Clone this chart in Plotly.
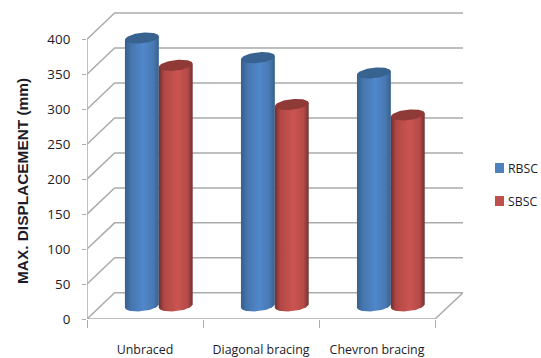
import numpy as np
import plotly.graph_objects as go

categories = ["Unbraced", "Diagonal bracing", "Chevron bracing"]
series_names = ["RBSC", "SBSC"]
rbsc_values = [383, 355, 333]
sbsc_values = [344, 288, 273]
y_ticks = [0, 50, 100, 150, 200, 250, 300, 350, 400]
y_title = "MAX. DISPLACEMENT (mm)"

# Oblique projection of the chart box, in axis units
DEPTH_X = 0.238
DEPTH_Y = 37.5
Y_MAX = 439
X_MIN, X_MAX = -0.5, 2.741
HALF_WIDTH = 0.146
CAP_RY = 7.6
CAP_TILT = 2.4
GRID = "#ababab"

BODY = {
    "RBSC": [[0, "#35608f"], [0.18, "#4675ac"], [0.55, "#5088cc"], [0.85, "#4878b0"], [1, "#365f8e"]],
    "SBSC": [[0, "#6f2f2d"], [0.16, "#b04845"], [0.55, "#cb5451"], [0.85, "#b44a47"], [1, "#733230"]],
}
CAP = {"RBSC": "#38628f", "SBSC": "#8f3a37"}
SWATCH = {"RBSC": "#4f81bd", "SBSC": "#c0504d"}

fig = go.Figure()


def grey_line(xs, ys, width=1.5):
    fig.add_trace(go.Scatter(x=xs, y=ys, mode="lines", hoverinfo="skip", showlegend=False,
                             cliponaxis=False, line=dict(color=GRID, width=width)))


# Back wall gridlines and the diagonals running along the side wall
for v in y_ticks:
    grey_line([X_MIN, X_MIN + DEPTH_X, X_MAX], [v, v + DEPTH_Y, v + DEPTH_Y])

# Left edge, front of the floor and its right-hand edge
grey_line([X_MIN, X_MIN], [0, 400])
grey_line([X_MIN, 2.5, X_MAX], [0, 0, DEPTH_Y])


def cylinder(center, value, name):
    base = DEPTH_Y / 2
    top = value + base
    t_low = np.linspace(np.pi, 2 * np.pi, 40)
    t_top = np.linspace(0, 2 * np.pi, 80)
    bottom_x = center + HALF_WIDTH * np.cos(t_low)
    bottom_y = base + CAP_RY * np.sin(t_low) + CAP_TILT * np.cos(t_low)
    xs = np.r_[bottom_x, bottom_x[-1], center - HALF_WIDTH, bottom_x[0]]
    ys = np.r_[bottom_y, top + CAP_TILT, top - CAP_TILT, bottom_y[0]]
    fig.add_trace(go.Scatter(
        x=xs, y=ys, mode="lines", fill="toself", line=dict(width=0), showlegend=False,
        name=name, hoverinfo="skip",
        fillgradient=dict(type="horizontal", colorscale=BODY[name]),
    ))
    fig.add_trace(go.Scatter(
        x=center + HALF_WIDTH * np.cos(t_top),
        y=top + CAP_RY * np.sin(t_top) + CAP_TILT * np.cos(t_top),
        mode="lines", fill="toself", fillcolor=CAP[name], line=dict(width=0),
        showlegend=False, name=name, hoverinfo="skip",
    ))


for i in range(len(categories)):
    group_center = i + DEPTH_X / 2
    cylinder(group_center - HALF_WIDTH, rbsc_values[i], series_names[0])
    cylinder(group_center + HALF_WIDTH, sbsc_values[i], series_names[1])

# Legend entries on the right of the plot
for name, y_px in zip(series_names, [168, 201]):
    fig.add_shape(type="rect", xref="paper", yref="paper",
                  x0=(495 - 87) / 376, x1=(504 - 87) / 376,
                  y0=(319 - y_px - 5) / 307, y1=(319 - y_px + 5) / 307,
                  fillcolor=SWATCH[name], line_width=0)
    fig.add_annotation(text=name, xref="paper", yref="paper", showarrow=False,
                       x=(506 - 87) / 376, y=(319 - y_px) / 307,
                       xanchor="left", yanchor="middle",
                       font=dict(family="Open Sans", size=12.3, color="#1c1c28"))

fig.add_annotation(text=y_title, textangle=-90, xref="paper", yref="paper", showarrow=False,
                   x=(22 - 87) / 376, y=(319 - 181) / 307, xanchor="center", yanchor="middle",
                   font=dict(family="Liberation Sans", size=15.4, weight="bold", color="#1c1c28"))

fig.update_layout(
    width=541, height=358,
    margin=dict(l=87, r=78, t=12, b=39, autoexpand=False),
    paper_bgcolor="white", plot_bgcolor="white",
    showlegend=False,
    font=dict(family="Open Sans", size=12, color="#1c1c28"),
    xaxis=dict(range=[X_MIN, X_MAX], tickvals=[0, 1, 2], ticktext=categories,
               ticks="", showgrid=False, zeroline=False, showline=False, automargin=False,
               ticklabelstandoff=22, tickfont=dict(size=12.4),
               minor=dict(tickvals=[-0.5, 0.5, 1.5, 2.5], ticks="outside", ticklen=8,
                          tickcolor=GRID, tickwidth=1.2, showgrid=False)),
    yaxis=dict(range=[0, Y_MAX], tickvals=y_ticks, ticks="outside", ticklen=4,
               tickcolor=GRID, tickwidth=1.2, showgrid=False, zeroline=False, showline=False,
               automargin=False, ticklabelstandoff=9, tickfont=dict(size=13.4)),
)

fig.write_html("out.html")
